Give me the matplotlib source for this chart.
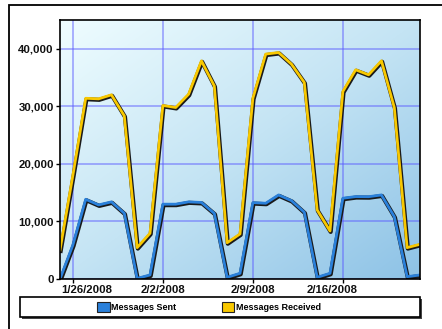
import matplotlib as mpl
mpl.use('Agg')
import matplotlib.pyplot as plt
import matplotlib.patheffects as pe
import matplotlib.transforms as mtransforms
from matplotlib.patches import Rectangle, Patch
from matplotlib.colors import LinearSegmentedColormap
import numpy as np
import pandas as pd

plt.rcParams['font.family'] = ['Liberation Sans', 'DejaVu Sans']

# daily message counts
dates = pd.date_range('2008-01-25', '2008-02-22', freq='D')
sent = [0, 5900, 13850, 12870, 13400, 11420, 100, 700, 13000, 13000,
        13400, 13300, 11400, 290, 990, 13270, 13160, 14600, 13620, 11600,
        290, 990, 14030, 14320, 14300, 14600, 10840, 400, 700]
received = [5050, 18000, 31400, 31300, 32000, 28350, 5450, 7950, 30150, 29800,
            32100, 37900, 33550, 6300, 7830, 31400, 39080, 39350, 37340, 34150,
            12000, 8350, 32580, 36350, 35480, 37910, 29800, 5450, 6030]
tick_dates = pd.to_datetime(['2008-01-26', '2008-02-02', '2008-02-09', '2008-02-16'])
tick_labels = ['1/26/2008', '2/2/2008', '2/9/2008', '2/16/2008']
y_ticks = [0, 10000, 20000, 30000, 40000]

W, H = 442, 329
fig = plt.figure(figsize=(W / 100, H / 100), dpi=100)
fig.patch.set_facecolor('white')

# outer border (only left and top edges fall inside the image)
fig.patches.append(Rectangle((9 / W, -0.2), 1.2, 1.2 - 5 / H,
                             transform=fig.transFigure, fill=False,
                             edgecolor='black', linewidth=1.3, zorder=0))

ax = fig.add_axes([60 / W, (H - 279) / H, 360 / W, 259 / H])

# diagonal background gradient
cmap = LinearSegmentedColormap.from_list('bg', ['#effdff', '#c4e4f4', '#8dc2e6'])
gx, gy = np.meshgrid(np.linspace(0, 1, 200), np.linspace(0, 1, 200))
grad = (gx + gy) / 2
ax.imshow(grad, extent=[0, 1, 0, 1], transform=ax.transAxes, cmap=cmap,
          aspect='auto', origin='upper', zorder=0, interpolation='bilinear')

shadow = [pe.Stroke(linewidth=3.0, foreground='#1a1a1a', offset=(0.5, -0.7)),
          pe.Normal()]
ax.plot(dates, received, color='#f8c800', linewidth=2.0, zorder=3,
        path_effects=shadow)
ax.plot(dates, sent, color='#2a80da', linewidth=2.0, zorder=3,
        path_effects=shadow)

ax.set_xlim(dates[0], dates[-1])
ax.set_ylim(0, 45000)
ax.set_yticks(y_ticks)
ax.set_yticklabels(['{:,}'.format(v) for v in y_ticks])
ax.set_xticks(tick_dates)
ax.set_xticklabels(tick_labels)
ax.grid(True, color='#5a5aff', alpha=0.5, linewidth=1.3)
for gl in ax.get_xgridlines() + ax.get_ygridlines():
    gl.set_zorder(1)

ax.tick_params(axis='both', direction='out', length=3, width=1, color='black',
               labelsize=8.2, pad=1.5)
for lbl in ax.get_xticklabels() + ax.get_yticklabels():
    lbl.set_fontweight('bold')
    lbl.set_color('#111111')

# nudge the end labels inward
xl = ax.get_xticklabels()
xl[0].set_transform(xl[0].get_transform() +
                    mtransforms.ScaledTranslation(14 / 100, 0, fig.dpi_scale_trans))
xl[-1].set_transform(xl[-1].get_transform() +
                     mtransforms.ScaledTranslation(-11 / 100, 0, fig.dpi_scale_trans))

for s in ax.spines.values():
    s.set_color('black')
    s.set_linewidth(1.2)
    s.set_zorder(4)

# legend box with drop shadow
lx0, ly0, lw, lh = 20 / W, (H - 317) / H, 400 / W, 20 / H
fig.patches.append(Rectangle((lx0 + 2 / W, ly0 - 2 / H), lw, lh,
                             transform=fig.transFigure, facecolor='#444444',
                             edgecolor='none', zorder=1))
fig.patches.append(Rectangle((lx0, ly0), lw, lh, transform=fig.transFigure,
                             facecolor='white', edgecolor='black',
                             linewidth=1.2, zorder=2))

handles = [Patch(facecolor='#2a80da', edgecolor='#222222', linewidth=0.8),
           Patch(facecolor='#f8c800', edgecolor='#222222', linewidth=0.8)]
lgd = fig.legend(handles, ['Messages Sent', 'Messages Received'],
                 loc='center', bbox_to_anchor=(209 / W, (H - 307) / H),
                 ncol=2, frameon=False, handlelength=1.35, handleheight=1.35,
                 handletextpad=0.2, columnspacing=5.0,
                 prop={'size': 6.5, 'weight': 'bold'})
lgd.set_zorder(3)

fig.savefig('out.png', dpi=100)
